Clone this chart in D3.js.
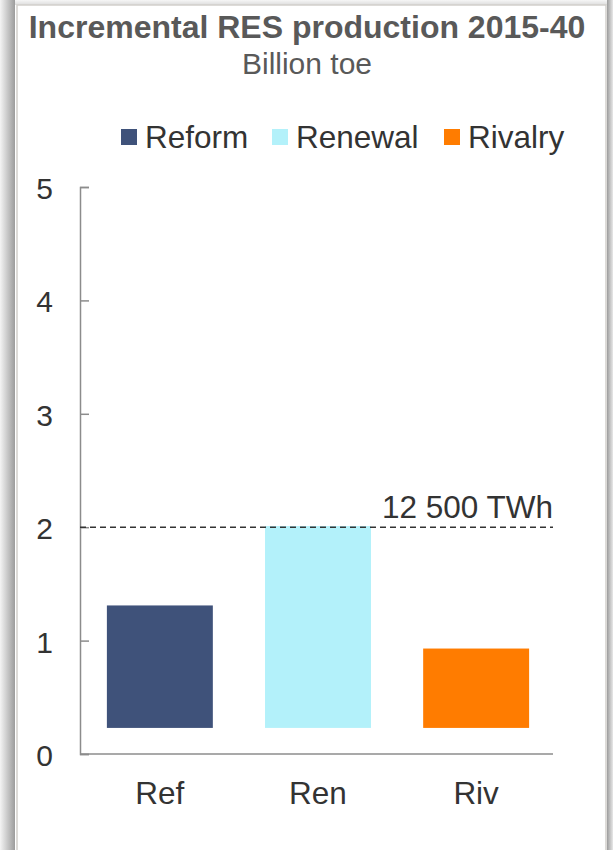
<!DOCTYPE html>
<html>
<head>
<meta charset="utf-8">
<script src="https://cdn.jsdelivr.net/npm/d3@7/dist/d3.min.js"></script>
<style>
html,body{margin:0;padding:0;background:#fff;}
svg{display:block;font-family:"Liberation Sans",Arial,sans-serif;}
</style>
</head>
<body>
<svg id="c" width="613" height="850"></svg>
<script>
const categories = ["Ref", "Ren", "Riv"];
const seriesNames = ["Reform", "Renewal", "Rivalry"];
const barBase = [0.23, 0.23, 0.23];
const barTop = [1.31, 2.01, 0.93];
const yTicks = [0, 1, 2, 3, 4, 5];
const refLineValue = 2.0;
const refLineLabel = "12 500 TWh";
const colors = ["#3f527a", "#b3f1fa", "#ff7c00"];

const svg = d3.select("#c");
const defs = svg.append("defs");
const gl = defs.append("linearGradient").attr("id","gl").attr("x1","0").attr("x2","1");
gl.append("stop").attr("offset","0").attr("stop-color","#f4f4f4");
gl.append("stop").attr("offset","1").attr("stop-color","#9c9c9c");
const gr = defs.append("linearGradient").attr("id","gr").attr("x1","0").attr("x2","1");
gr.append("stop").attr("offset","0").attr("stop-color","#9c9c9c");
gr.append("stop").attr("offset","1").attr("stop-color","#e8e8e8");
const gt = defs.append("linearGradient").attr("id","gt").attr("x1","0").attr("x2","0").attr("y1","0").attr("y2","1");
gt.append("stop").attr("offset","0").attr("stop-color","#f6f6f6");
gt.append("stop").attr("offset","1").attr("stop-color","#dcdcdc");

// frame shadows
svg.append("rect").attr("x",0).attr("y",0).attr("width",613).attr("height",5).attr("fill","url(#gt)");
svg.append("rect").attr("x",0).attr("y",0).attr("width",15).attr("height",850).attr("fill","url(#gl)");
svg.append("rect").attr("x",607).attr("y",0).attr("width",6).attr("height",850).attr("fill","url(#gr)");
svg.append("rect").attr("x",17).attr("y",5).attr("width",589).attr("height",860)
  .attr("fill","#fff").attr("stroke","#d2cfcb").attr("stroke-width",1.5);

// title
svg.append("text").attr("x",307).attr("y",38).attr("text-anchor","middle")
  .attr("font-size",32).attr("font-weight","bold").attr("fill","#595959")
  .text("Incremental RES production 2015-40");
svg.append("text").attr("x",307).attr("y",74).attr("text-anchor","middle")
  .attr("font-size",30).attr("fill","#595959").text("Billion toe");

// legend
const legX = [121, 272, 444];
const leg = svg.append("g");
seriesNames.forEach((s,i)=>{
  leg.append("rect").attr("x",legX[i]).attr("y",129).attr("width",16).attr("height",16).attr("fill",colors[i]);
  leg.append("text").attr("x",legX[i]+24).attr("y",148).attr("font-size",31.5).attr("fill","#333").text(s);
});

// scales
const x = d3.scaleBand().domain(categories).range([80,556]).paddingInner(0.33).paddingOuter(0.17);
const y = d3.scaleLinear().domain([0,5]).range([754,187]);

// y axis
const yAxis = svg.append("g").attr("transform","translate(80,0)")
  .call(d3.axisRight(y).tickValues(yTicks).tickSize(9).tickFormat(""));
yAxis.select(".domain").attr("stroke","#8c8c8c").attr("stroke-width",1.5);
yAxis.selectAll(".tick line").attr("stroke","#8c8c8c").attr("stroke-width",1.5);
svg.append("g").selectAll("text").data(yTicks).join("text")
  .attr("x",44.5).attr("y",d=>y(d)+12).attr("text-anchor","middle")
  .attr("font-size",30).attr("fill","#333").text(d=>d);

// bars
svg.append("g").selectAll("rect").data(categories).join("rect")
  .attr("x",d=>x(d)).attr("width",x.bandwidth())
  .attr("y",(d,i)=>y(barTop[i])).attr("height",(d,i)=>y(barBase[i])-y(barTop[i]))
  .attr("fill",(d,i)=>colors[i]);

// x axis
const xAxis = svg.append("g").attr("transform","translate(0,754)")
  .call(d3.axisBottom(x).tickSize(0).tickFormat(""));
xAxis.select(".domain").attr("d","M80,0H553").attr("stroke","#8c8c8c").attr("stroke-width",1.5);
svg.append("g").selectAll("text").data(categories).join("text")
  .attr("x",d=>x(d)+x.bandwidth()/2).attr("y",804).attr("text-anchor","middle")
  .attr("font-size",31.5).attr("fill","#333").text(d=>d);

// reference line
svg.append("line").attr("x1",80).attr("x2",553).attr("y1",y(refLineValue)).attr("y2",y(refLineValue))
  .attr("stroke","#333").attr("stroke-width",1.5).attr("stroke-dasharray","6,4");
svg.append("text").attr("x",553).attr("y",518).attr("text-anchor","end")
  .attr("font-size",31.5).attr("fill","#333").text(refLineLabel);
</script>
</body>
</html>
